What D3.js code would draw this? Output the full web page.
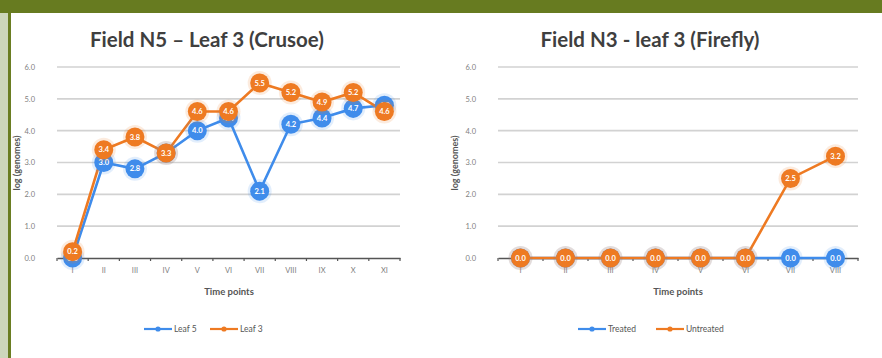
<!DOCTYPE html>
<html><head><meta charset="utf-8">
<script src="https://cdn.jsdelivr.net/npm/d3@7"></script>
<style>
html,body{margin:0;padding:0;background:#fff;}
svg{display:block;font-family:Lato,"Open Sans",sans-serif;}
</style></head>
<body>
<svg id="c" width="882" height="358"></svg>
<script>
// ---- data ----
const leftCategories = ["I","II","III","IV","V","VI","VII","VIII","IX","X","XI"];
const leaf5 = [0.0, 3.0, 2.8, 3.3, 4.0, 4.4, 2.1, 4.2, 4.4, 4.7, 4.8];
const leaf3 = [0.2, 3.4, 3.8, 3.3, 4.6, 4.6, 5.5, 5.2, 4.9, 5.2, 4.6];
const rightCategories = ["I","II","III","IV","V","VI","VII","VIII"];
const treated = [0.0, 0.0, 0.0, 0.0, 0.0, 0.0, 0.0, 0.0];
const untreated = [0.0, 0.0, 0.0, 0.0, 0.0, 0.0, 2.5, 3.2];
const yTicks = [0, 1, 2, 3, 4, 5, 6];
const BLUE = "#3f8ceb", ORANGE = "#ee7a22";

const svg = d3.select("#c");
// frame
svg.append("rect").attr("x",0).attr("y",0).attr("width",882).attr("height",358).attr("fill","#fff");
svg.append("rect").attr("x",0).attr("y",0).attr("width",8).attr("height",358).attr("fill","#cdd6bb");
svg.append("rect").attr("x",8).attr("y",0).attr("width",3).attr("height",358).attr("fill","#6a7d22");
svg.append("rect").attr("x",0).attr("y",0).attr("width",882).attr("height",13).attr("fill","#677b20");

function chart(cfg){
  const g = svg.append("g");
  const x = d3.scaleBand().domain(cfg.categories).range([cfg.x0, cfg.x1]);
  const y = d3.scaleLinear().domain([0,6]).range([258, 67]);
  // title
  g.append("text").attr("x", cfg.titleX).attr("y", 47).attr("text-anchor","middle")
    .attr("font-size", 20.5).attr("font-weight","bold").attr("fill","#3f3f3f").text(cfg.title);
  // gridlines
  g.append("g").selectAll("line").data(yTicks.filter(d=>d>0)).join("line")
    .attr("x1", cfg.x0).attr("x2", cfg.x1).attr("y1", d=>y(d)).attr("y2", d=>y(d))
    .attr("stroke","#d2d2d2").attr("stroke-width",1.6);
  // y axis labels
  const ya = g.append("g").attr("transform",`translate(${cfg.x0-19},0)`)
    .call(d3.axisLeft(y).tickValues(yTicks).tickFormat(d3.format(".1f")).tickSize(0));
  ya.select(".domain").remove();
  ya.selectAll("text").attr("font-size",7.5).attr("fill","#808080").attr("font-family","Lato,sans-serif");
  // x axis
  const xa = g.append("g").attr("transform",`translate(0,${y(0)})`)
    .call(d3.axisBottom(x).tickSize(0).tickPadding(10));
  xa.select(".domain").attr("stroke","#555").attr("stroke-width",1.6);
  xa.selectAll("text").attr("font-size",7.5).attr("fill","#808080").attr("font-family","Lato,sans-serif");
  // tick marks at band boundaries
  g.append("g").selectAll("line").data(cfg.categories.concat(["__end"])).join("line")
    .attr("x1",(d,i)=> cfg.x0 + i*x.bandwidth()).attr("x2",(d,i)=> cfg.x0 + i*x.bandwidth())
    .attr("y1", y(0)).attr("y2", y(0)+3).attr("stroke","#555").attr("stroke-width",1.2);
  // axis titles
  g.append("text").attr("x", cfg.xTitleX).attr("y", 295).attr("text-anchor","middle")
    .attr("font-size",9.5).attr("font-weight","bold").attr("fill","#555").text("Time points");
  g.append("text").attr("transform",`translate(${cfg.yTitleX},163) rotate(-90)`).attr("text-anchor","middle")
    .attr("font-size",9).attr("font-weight","bold").attr("fill","#555").text("log (genomes)");
  // series
  const line = d3.line().x((d,i)=>x(cfg.categories[i])+x.bandwidth()/2).y(d=>y(d));
  cfg.series.forEach(s=>{
    g.append("path").datum(s.values).attr("d", line).attr("fill","none")
      .attr("stroke", s.color).attr("stroke-width", 2.6);
  });
  cfg.series.forEach(s=>{
    const pts = g.append("g").selectAll("g").data(s.values.map((v,i)=>({v,i}))).join("g")
      .attr("transform", d=>`translate(${x(cfg.categories[d.i])+x.bandwidth()/2},${y(d.v)})`);
    pts.append("circle").attr("r",12).attr("fill", s.color).attr("opacity",0.15);
    pts.append("circle").attr("r",9.5).attr("fill", s.color);
    pts.append("text").attr("text-anchor","middle").attr("dy","0.35em")
      .attr("font-size",7.5).attr("font-weight","bold").attr("fill","#fff")
      .text(d=>d3.format(".1f")(d.v));
  });
  // legend
  cfg.legend.forEach(l=>{
    g.append("line").attr("x1",l.x).attr("x2",l.x+28).attr("y1",329).attr("y2",329)
      .attr("stroke",l.color).attr("stroke-width",2.2);
    g.append("circle").attr("cx",l.x+14).attr("cy",329).attr("r",2.6).attr("fill",l.color);
    g.append("text").attr("x",l.x+30).attr("y",329).attr("dy","0.35em")
      .attr("font-size",8.5).attr("fill","#555").text(l.label);
  });
}

chart({
  categories: leftCategories, x0: 57, x1: 400, title: "Field N5 \u2013 Leaf 3 (Crusoe)", titleX: 207,
  xTitleX: 229, yTitleX: 20,
  series: [{values: leaf5, color: BLUE}, {values: leaf3, color: ORANGE}],
  legend: [{x:144, color: BLUE, label:"Leaf 5"}, {x:210, color: ORANGE, label:"Leaf 3"}]
});
chart({
  categories: rightCategories, x0: 498, x1: 858, title: "Field N3 - leaf 3 (Firefly)", titleX: 650,
  xTitleX: 678, yTitleX: 458,
  series: [{values: treated, color: BLUE}, {values: untreated, color: ORANGE}],
  legend: [{x:578, color: BLUE, label:"Treated"}, {x:656, color: ORANGE, label:"Untreated"}]
});
</script>
</body></html>
